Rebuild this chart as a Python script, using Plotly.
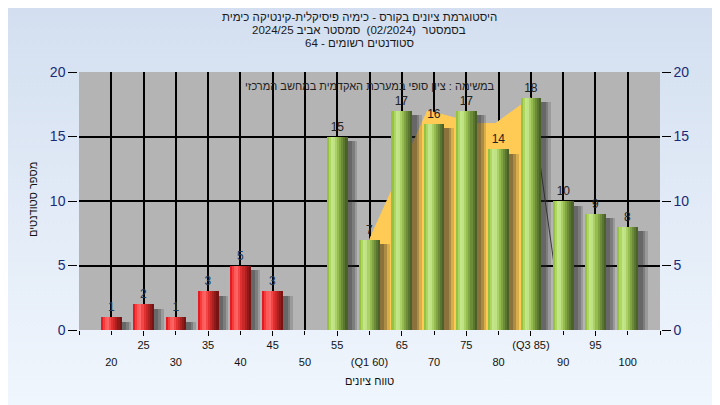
import base64
import plotly.graph_objects as go

# ---------------- data ----------------
grade_labels = ["20", "25", "30", "35", "40", "45", "50", "55", "(Q1 60)", "65",
                "70", "75", "80", "(Q3 85)", "90", "95", "100"]
counts = [1, 2, 1, 3, 5, 3, 0, 15, 7, 17, 16, 17, 14, 18, 10, 9, 8]
failing_count = 6          # first 6 bins (20..45) drawn red

# background area series (grade position, value)
area_grades = [60, 69, 76.5, 79.5, 85]
area_values = [7, 17, 16, 16, 18]
# thin descending line (grade, value)
line_grades = [85, 90]
line_values = [18, 0]

title_lines = [
    "היסטוגרמת ציונים בקורס - כימיה פיסיקלית-קינטיקה כימית",
    "בסמסטר  (02/2024)  סמסטר אביב 2024/25",
    "סטודנטים רשומים - 64",
]
note_text = "במשימה : ציון סופי במערכת האקדמית במחשב המרכזי"
x_title = "טווח ציונים"
y_title = "מספר סטודנטים"

# ---------------- helpers ----------------
FONT = "Liberation Sans, Arial, DejaVu Sans, sans-serif"
n = len(counts)
idx = list(range(n))

# page has an 8px body margin -> figure is 712x397 so that it fits the window
FIG_W, FIG_H = 712, 397
L, T, R, B = 71, 64, 60, 75
PW, PH = FIG_W - L - R, FIG_H - T - B      # 581 x 258
OX, OY = 8 + L, 8 + T                      # plot origin in window pixels


def px_x(px):
    return (px - OX) / PW


def px_y(py):
    return (OY + PH - py) / PH


def g2i(g):
    return (g - 20) / 5.0


red_profile = ['#e01c24', '#f83a3a', '#ff5a5a', '#ff6464', '#f44646', '#e03030',
               '#c82828', '#ac2020', '#901a1a', '#781414']
green_profile = ['#96c244', '#aed660', '#c2e688', '#bfe384', '#aad066', '#96bc50',
                 '#80a444', '#6c8c38', '#5a7630', '#4a6228']

fig = go.Figure()

# background area
fig.add_trace(go.Scatter(
    x=[g2i(g) for g in area_grades], y=area_values, mode="lines",
    fill="tozeroy", fillcolor="#ffcb55", line=dict(color="#ffcb55", width=1),
    hoverinfo="skip", showlegend=False, zorder=-3))
fig.add_trace(go.Scatter(
    x=[g2i(g) for g in line_grades], y=line_values, mode="lines",
    line=dict(color="#3c3c3c", width=1), hoverinfo="skip", showlegend=False, zorder=-3))

W = 0.64
# soft shadows to the right of the bars
for sw_, col in [(0.30, "rgba(40,40,40,0.18)"), (0.22, "rgba(40,40,40,0.25)"),
                 (0.14, "rgba(40,40,40,0.25)")]:
    fig.add_trace(go.Bar(
        x=idx, y=[max(c - 0.35, 0) if c > 0 else 0 for c in counts],
        offset=0.0, width=W / 2 + sw_, marker=dict(color=col, line=dict(width=0)),
        hoverinfo="skip", showlegend=False, zorder=-1))

# cylinder-like bars built from vertical strips
ns = len(red_profile)
sw = W / ns
for k in range(ns):
    cols = [red_profile[k] if i < failing_count else green_profile[k] for i in idx]
    fig.add_trace(go.Bar(
        x=idx, y=counts, offset=-W / 2 + k * sw, width=sw * 1.05,
        marker=dict(color=cols, line=dict(width=0)),
        hoverinfo="skip", showlegend=False, zorder=0))

# value labels (transparent bar carrying outside text)
lab_cols = ["#203a5c" if i < failing_count else "#222222" for i in idx]
fig.add_trace(go.Bar(
    x=idx, y=counts, offset=-W / 2, width=W,
    marker=dict(color="rgba(0,0,0,0)", line=dict(width=0)),
    text=[str(c) if c > 0 else "" for c in counts],
    textposition="outside", cliponaxis=False,
    textfont=dict(family=FONT, size=12, color=lab_cols),
    hoverinfo="skip", showlegend=False, zorder=2))

# dummy traces for the second x axis (lower label row) and right y axis
fig.add_trace(go.Scatter(x=idx, y=[None] * n, xaxis="x2", yaxis="y",
                         mode="markers", showlegend=False, hoverinfo="skip"))
fig.add_trace(go.Scatter(x=idx, y=[None] * n, xaxis="x", yaxis="y2",
                         mode="markers", showlegend=False, hoverinfo="skip"))

top_vals = [i for i in idx if i % 2 == 1]

tickfont_x = dict(family=FONT, size=11, color="#111111")
tickfont_y = dict(family=FONT, size=14, color="#1a2a78")

# gradient background for the whole figure
svg = ('<svg xmlns="http://www.w3.org/2000/svg" width="720" height="405">'
       '<defs><linearGradient id="g" x1="0" y1="0" x2="0" y2="1">'
       '<stop offset="0" stop-color="#d3dff0"/><stop offset="1" stop-color="#f0f6fd"/>'
       '</linearGradient></defs><rect width="720" height="405" fill="url(#g)"/></svg>')
bg_uri = "data:image/svg+xml;base64," + base64.b64encode(svg.encode()).decode()

fig.update_layout(
    width=FIG_W, height=FIG_H,
    margin=dict(l=L, r=R, t=T, b=B),
    paper_bgcolor="#e2eaf6", plot_bgcolor="#b4b4b4",
    barmode="overlay", bargap=0,
    showlegend=False,
    font=dict(family=FONT, color="#111111"),
    images=[dict(source=bg_uri, xref="paper", yref="paper",
                 x=-L / PW, y=1 + T / PH, sizex=FIG_W / PW, sizey=FIG_H / PH,
                 xanchor="left", yanchor="top", sizing="stretch", layer="below")],
    shapes=[dict(type="rect", xref="paper", yref="paper", x0=0, x1=1, y0=0, y1=1,
                 fillcolor="#b4b4b4", line=dict(width=0), layer="below")],
    xaxis=dict(range=[-1, 17], tickvals=top_vals,
               ticktext=[grade_labels[i] for i in top_vals],
               tickfont=tickfont_x, ticks="outside", ticklen=4, tickcolor="#000",
               showgrid=False, zeroline=False, showline=True, linecolor="#000",
               linewidth=1.5, ticklabelstandoff=0),
    xaxis2=dict(overlaying="x", matches="x", side="bottom", range=[-1, 17],
                tickvals=list(range(-1, 18)),
                ticktext=["" if (i < 0 or i > 16 or i % 2 == 1) else grade_labels[i]
                          for i in range(-1, 18)],
                tickfont=tickfont_x, ticks="outside", ticklen=4, tickcolor="#000",
                showgrid=True, gridcolor="#000", gridwidth=1.5,
                zeroline=False, showline=False, ticklabelstandoff=18),
    yaxis=dict(range=[0, 20], dtick=5, tickfont=tickfont_y, ticks="outside",
               ticklen=9, tickcolor="#000", showgrid=True, gridcolor="#000",
               gridwidth=1.5, zeroline=False, showline=True, linecolor="#000",
               linewidth=1.5),
    yaxis2=dict(overlaying="y", matches="y", side="right", range=[0, 20], dtick=5,
                tickfont=tickfont_y, ticks="outside", ticklen=9, tickcolor="#000",
                showgrid=False, zeroline=False, showline=True, linecolor="#000",
                linewidth=1.5),
)

# title lines
for txt, ypx in zip(title_lines, [17, 30, 43]):
    fig.add_annotation(text=txt, xref="paper", yref="paper",
                       x=px_x(359), y=px_y(ypx),
                       showarrow=False, xanchor="center", yanchor="middle",
                       font=dict(family=FONT, size=11.5, color="#1a1a1a"))

fig.add_annotation(text=note_text, xref="paper", yref="paper",
                   x=px_x(370), y=px_y(86), showarrow=False,
                   xanchor="center", yanchor="middle",
                   font=dict(family=FONT, size=11, color="#222222"))
fig.add_annotation(text=x_title, xref="paper", yref="paper",
                   x=px_x(369), y=px_y(381), showarrow=False,
                   xanchor="center", yanchor="middle",
                   font=dict(family=FONT, size=11, color="#111111"))
fig.add_annotation(text=y_title, xref="paper", yref="paper",
                   x=px_x(33), y=px_y(200), showarrow=False,
                   textangle=-90, xanchor="center", yanchor="middle",
                   font=dict(family=FONT, size=11, color="#111111"))

fig.write_html("out.html")
